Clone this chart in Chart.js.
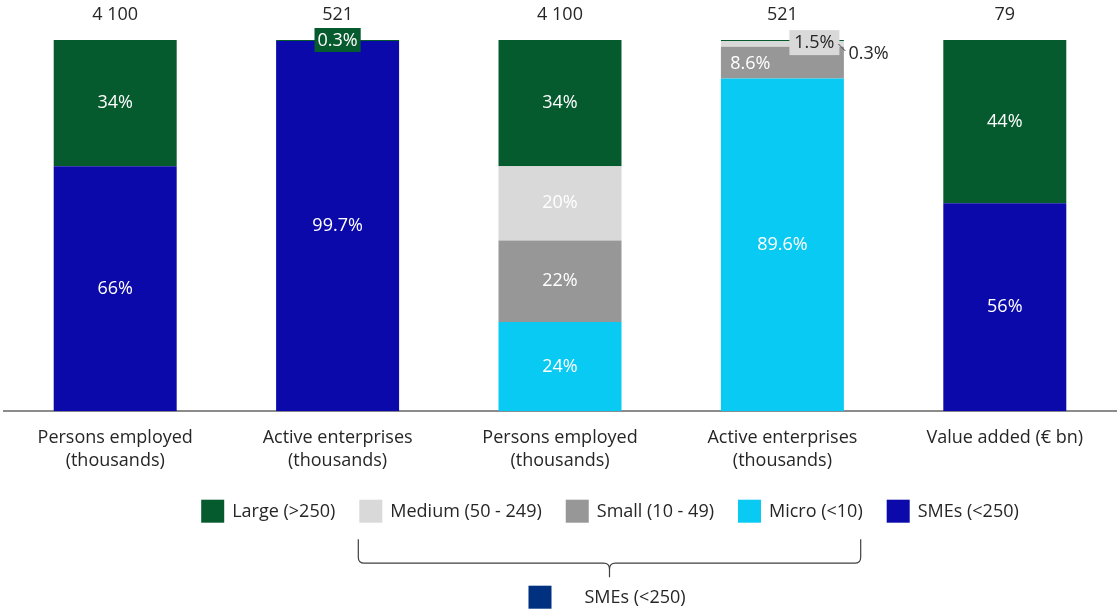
<!DOCTYPE html>
<html><head><meta charset="utf-8">
<script src="https://cdn.jsdelivr.net/npm/chart.js@4.4.1/dist/chart.umd.min.js"></script>
<style>html,body{margin:0;padding:0;background:#fff;overflow:hidden}</style>
</head><body>
<canvas id="c" width="1118" height="610"></canvas>
<script>
// ---- data ----
const categories = [["Persons employed","(thousands)"],["Active enterprises","(thousands)"],["Persons employed","(thousands)"],["Active enterprises","(thousands)"],["Value added (€ bn)"]];
const totals = ["4 100","521","4 100","521","79"];
const smes   = [66, 99.7, null, null, 56];
const micro  = [null, null, 24, 89.6, null];
const small  = [null, null, 22, 8.6, null];
const medium = [null, null, 20, 1.5, null];
const large  = [34, 0.3, 34, 0.3, 44];
const seriesNames = ["SMEs (<250)","Micro (<10)","Small (10 - 49)","Medium (50 - 249)","Large (>250)"];
const legendOrder = ["Large (>250)","Medium (50 - 249)","Small (10 - 49)","Micro (<10)","SMEs (<250)"];
const groupLabel = "SMEs (<250)";

// ---- styles ----
const colors = {
  "SMEs (<250)":"#0b09aa",
  "Micro (<10)":"#08caf2",
  "Small (10 - 49)":"#979797",
  "Medium (50 - 249)":"#d9d9d9",
  "Large (>250)":"#055a2e"
};
const groupColor = "#003180";
const FONT = "'Open Sans', sans-serif";
const FS = 18;
const DARK = "#262626";

const seriesData = [smes, micro, small, medium, large];
const datasets = seriesNames.map((n,k)=>({
  label:n, data:seriesData[k], backgroundColor:colors[n],
  borderWidth:0, barPercentage:0.553, categoryPercentage:1, stack:'s'
}));

function fmt(v){ return (Number.isInteger(v)? v : v.toFixed(1)) + "%"; }

const labelPlugin = {
  id:'labels',
  afterDatasetsDraw(chart){
    const ctx = chart.ctx;
    ctx.save();
    ctx.font = FS + "px " + FONT;
    ctx.textBaseline = 'middle';
    ctx.textAlign = 'center';
    chart.data.datasets.forEach((ds,di)=>{
      const meta = chart.getDatasetMeta(di);
      ds.data.forEach((v,i)=>{
        if(v==null) return;
        const el = meta.data[i];
        const cx = el.x, cy = (el.y+el.base)/2;
        const t = fmt(v);
        const key = ds.label + "|" + i;
        if(key === "Large (>250)|1"){
          const w = ctx.measureText(t).width + 6;
          ctx.fillStyle = colors["Large (>250)"];
          ctx.fillRect(cx-w/2, el.y-12, w, 24);
          ctx.fillStyle = "#fff";
          ctx.fillText(t, cx, el.y+1);
        } else if(key === "Large (>250)|3"){
          ctx.strokeStyle = "#404040"; ctx.lineWidth = 1;
          ctx.beginPath(); ctx.moveTo(cx+56, el.y+4); ctx.lineTo(cx+63, el.y+11); ctx.stroke();
          ctx.fillStyle = DARK; ctx.textAlign='left';
          ctx.fillText(t, cx+66, el.y+14);
          ctx.textAlign='center';
        } else if(key === "Medium (50 - 249)|3"){
          ctx.fillStyle = colors["Medium (50 - 249)"];
          ctx.fillRect(cx+7, el.y-11, 50, 25);
          ctx.fillStyle = DARK;
          ctx.fillText(t, cx+32, el.y+2);
        } else if(key === "Small (10 - 49)|3"){
          ctx.fillStyle = "#fff";
          ctx.fillText(t, cx-32, cy+1);
        } else {
          ctx.fillStyle = "#fff";
          ctx.fillText(t, cx, cy);
        }
      });
    });
    // totals above bars
    ctx.fillStyle = DARK;
    const xs = chart.scales.x;
    totals.forEach((t,i)=>{
      ctx.fillText(t, xs.getPixelForValue(i), chart.chartArea.top - 25);
    });
    ctx.restore();
  }
};

const legendPlugin = {
  id:'customLegend',
  afterDraw(chart){
    const ctx = chart.ctx;
    ctx.save();
    ctx.font = FS + "px " + FONT;
    ctx.textBaseline = 'middle';
    ctx.textAlign = 'left';
    const box = 23, gapText = 8, gapItem = 24;
    const y = chart.chartArea.bottom + 100;
    const widths = legendOrder.map(n=>box+gapText+ctx.measureText(n).width);
    const total = widths.reduce((a,b)=>a+b,0) + gapItem*(widths.length-1);
    let x = 610 - total/2;
    const pos = {};
    legendOrder.forEach((n,k)=>{
      ctx.fillStyle = colors[n];
      ctx.fillRect(x, y-box/2, box, box);
      ctx.fillStyle = DARK;
      ctx.fillText(n, x+box+gapText, y+1);
      pos[n] = {x0:x, x1:x+widths[k]};
      x += widths[k]+gapItem;
    });
    // brace
    const L = pos["Medium (50 - 249)"].x0 - 1, R = pos["Micro (<10)"].x1 - 2;
    const M = (L+R)/2;
    const t0 = y+28, t1 = y+52, tip = y+66, r = 6;
    ctx.strokeStyle = "#404040"; ctx.lineWidth = 1.2;
    ctx.beginPath();
    ctx.moveTo(L, t0); ctx.lineTo(L, t1-r);
    ctx.quadraticCurveTo(L, t1, L+r, t1);
    ctx.lineTo(M-r, t1);
    ctx.quadraticCurveTo(M, t1, M, t1+r);
    ctx.lineTo(M, tip);
    ctx.moveTo(M, t1+r);
    ctx.quadraticCurveTo(M, t1, M+r, t1);
    ctx.lineTo(R-r, t1);
    ctx.quadraticCurveTo(R, t1, R, t1-r);
    ctx.lineTo(R, t0);
    ctx.stroke();
    // group legend
    const gy = y+86;
    ctx.fillStyle = groupColor;
    ctx.fillRect(M-81, gy-box/2, box, box);
    ctx.fillStyle = DARK;
    ctx.fillText(groupLabel, M-25, gy+1);
    ctx.restore();
  }
};

new Chart(document.getElementById('c'), {
  type:'bar',
  data:{labels:categories, datasets},
  plugins:[labelPlugin, legendPlugin],
  options:{
    responsive:false, devicePixelRatio:1, animation:false,
    layout:{padding:{top:40, left:4, right:2, bottom:122}},
    plugins:{legend:{display:false}, tooltip:{enabled:false}},
    scales:{
      x:{stacked:true, grid:{display:false, drawTicks:false},
         border:{display:true, color:'#8c8c8c', width:2},
         ticks:{color:DARK, font:{family:FONT, size:FS, lineHeight:1.3}, padding:15, maxRotation:0, autoSkip:false}},
      y:{stacked:true, display:false, min:0, max:100}
    }
  }
});
</script>
</body></html>
